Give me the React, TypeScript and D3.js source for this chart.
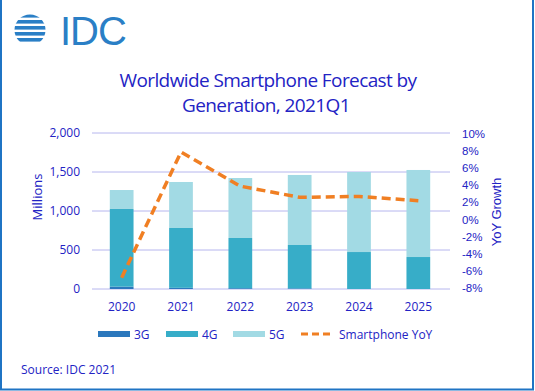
import React from 'react';
import * as d3 from 'd3';

const years = ['2020', '2021', '2022', '2023', '2024', '2025'];
const g3 = [30, 15, 10, 8, 0, 0];
const g4 = [996, 767, 644, 556, 474, 410];
const g5 = [243, 590, 769, 898, 1026, 1116];
const yoy = [-6.8, 7.9, 3.9, 2.6, 2.7, 2.2];
const leftTicks = [0, 500, 1000, 1500, 2000];
const rightTicks = [-8, -6, -4, -2, 0, 2, 4, 6, 8, 10];

const W = 535, H = 391;
const TXT = '#2323c4';
const colors = { g3: '#2b78bd', g4: '#37adc8', g5: '#a2dae4', yoy: '#f07f23' };

export default function App() {
  const x = d3.scaleBand().domain(years).range([92, 448]).paddingInner(0.6).paddingOuter(0.3);
  const y = d3.scaleLinear().domain([0, 2000]).range([289, 133]);
  const yR = d3.scaleLinear().domain([-8, 10]).range([288, 134]);

  const stack = d3.stack<any>().keys(['g3', 'g4', 'g5'])(
    years.map((yr, i) => ({ year: yr, g3: g3[i], g4: g4[i], g5: g5[i] }))
  );

  const line = d3.line<number>()
    .x((_, i) => (x(years[i]) as number) + x.bandwidth() / 2)
    .y(d => yR(d));

  const font = "'Open Sans', sans-serif";
  const legend = [
    { key: 'g3', label: '3G', x: 98 },
    { key: 'g4', label: '4G', x: 166 },
    { key: 'g5', label: '5G', x: 233 },
  ];

  // logo stripes
  const stripes = [16, 22, 28, 34, 40];

  return (
    <svg width={W} height={H} style={{ position: 'absolute', left: 0, top: 0, background: '#fff' }}>
      <defs>
        <clipPath id="globe"><circle cx={30} cy={30} r={15.5} /></clipPath>
      </defs>
      <rect x={0} y={0} width={W} height={H} fill="#fff" />
      {/* frame */}
      <path d={`M1,0 V${H - 1.5} H${W - 2} V0`} fill="none" stroke="#1f74c4" strokeWidth={2} />

      {/* logo */}
      <g clipPath="url(#globe)" fill="#2a7fc6">
        {stripes.map((s, i) => (
          <rect key={i} x={i % 2 ? 12 : 14} y={s - 2} width={i % 2 ? 36 : 34} height={3.6} />
        ))}
      </g>
      <text x={60} y={45} fontFamily="'Liberation Sans', Arial, sans-serif" fontSize={40} fill="#2a7fc6" letterSpacing={-1}>IDC</text>

      {/* title */}
      <g fontFamily={font} fontSize={19} fill={TXT} textAnchor="middle" letterSpacing={-0.6}>
        <text x={268} y={87}>Worldwide Smartphone Forecast by</text>
        <text x={266} y={112}>Generation, 2021Q1</text>
      </g>

      {/* gridlines */}
      {leftTicks.map(t => (
        <line key={t} x1={92} x2={450} y1={y(t)} y2={y(t)} stroke="#b6b6ee" strokeWidth={1} />
      ))}

      {/* bars */}
      {stack.map(s => (
        <g key={s.key} fill={(colors as any)[s.key]}>
          {s.map((d: any, i: number) => (
            <rect key={i} x={x(years[i])} width={x.bandwidth()} y={y(d[1])} height={Math.max(0, y(d[0]) - y(d[1]))} />
          ))}
        </g>
      ))}

      {/* yoy line */}
      <path d={line(yoy) || ''} fill="none" stroke={colors.yoy} strokeWidth={3.5} strokeDasharray="9,5" />

      {/* left axis */}
      <g fontFamily={font} fontSize={12} fill={TXT} textAnchor="end">
        {leftTicks.map(t => (
          <text key={t} x={80} y={y(t) + 4}>{d3.format(',')(t)}</text>
        ))}
      </g>
      <text transform="translate(42,197) rotate(-90)" textAnchor="middle" fontFamily={font} fontSize={13} fill={TXT}>Millions</text>

      {/* right axis */}
      <g fontFamily="'Liberation Sans', Arial, sans-serif" fontSize={11.5} fill={TXT}>
        {rightTicks.map(t => (
          <text key={t} x={462} y={yR(t) + 4}>{t + '%'}</text>
        ))}
      </g>
      <text transform="translate(501,212) rotate(-90)" textAnchor="middle" fontFamily="'Liberation Sans', Arial, sans-serif" fontSize={13} fill={TXT}>YoY Growth</text>

      {/* x labels */}
      <g fontFamily={font} fontSize={12} fill={TXT} textAnchor="middle">
        {years.map(yr => (
          <text key={yr} x={(x(yr) as number) + x.bandwidth() / 2} y={311}>{yr}</text>
        ))}
      </g>

      {/* legend */}
      <g fontFamily={font} fontSize={12} fill={TXT}>
        {legend.map(l => (
          <g key={l.key}>
            <rect x={l.x} y={331} width={32} height={6} fill={(colors as any)[l.key]} />
            <text x={l.x + 36} y={339}>{l.label}</text>
          </g>
        ))}
        <line x1={301} x2={332} y1={334} y2={334} stroke={colors.yoy} strokeWidth={3} strokeDasharray="7,4" />
        <text x={339} y={339}>Smartphone YoY</text>
      </g>

      <text x={21} y={374} fontFamily={font} fontSize={12} fill={TXT}>Source: IDC 2021</text>
    </svg>
  );
}
